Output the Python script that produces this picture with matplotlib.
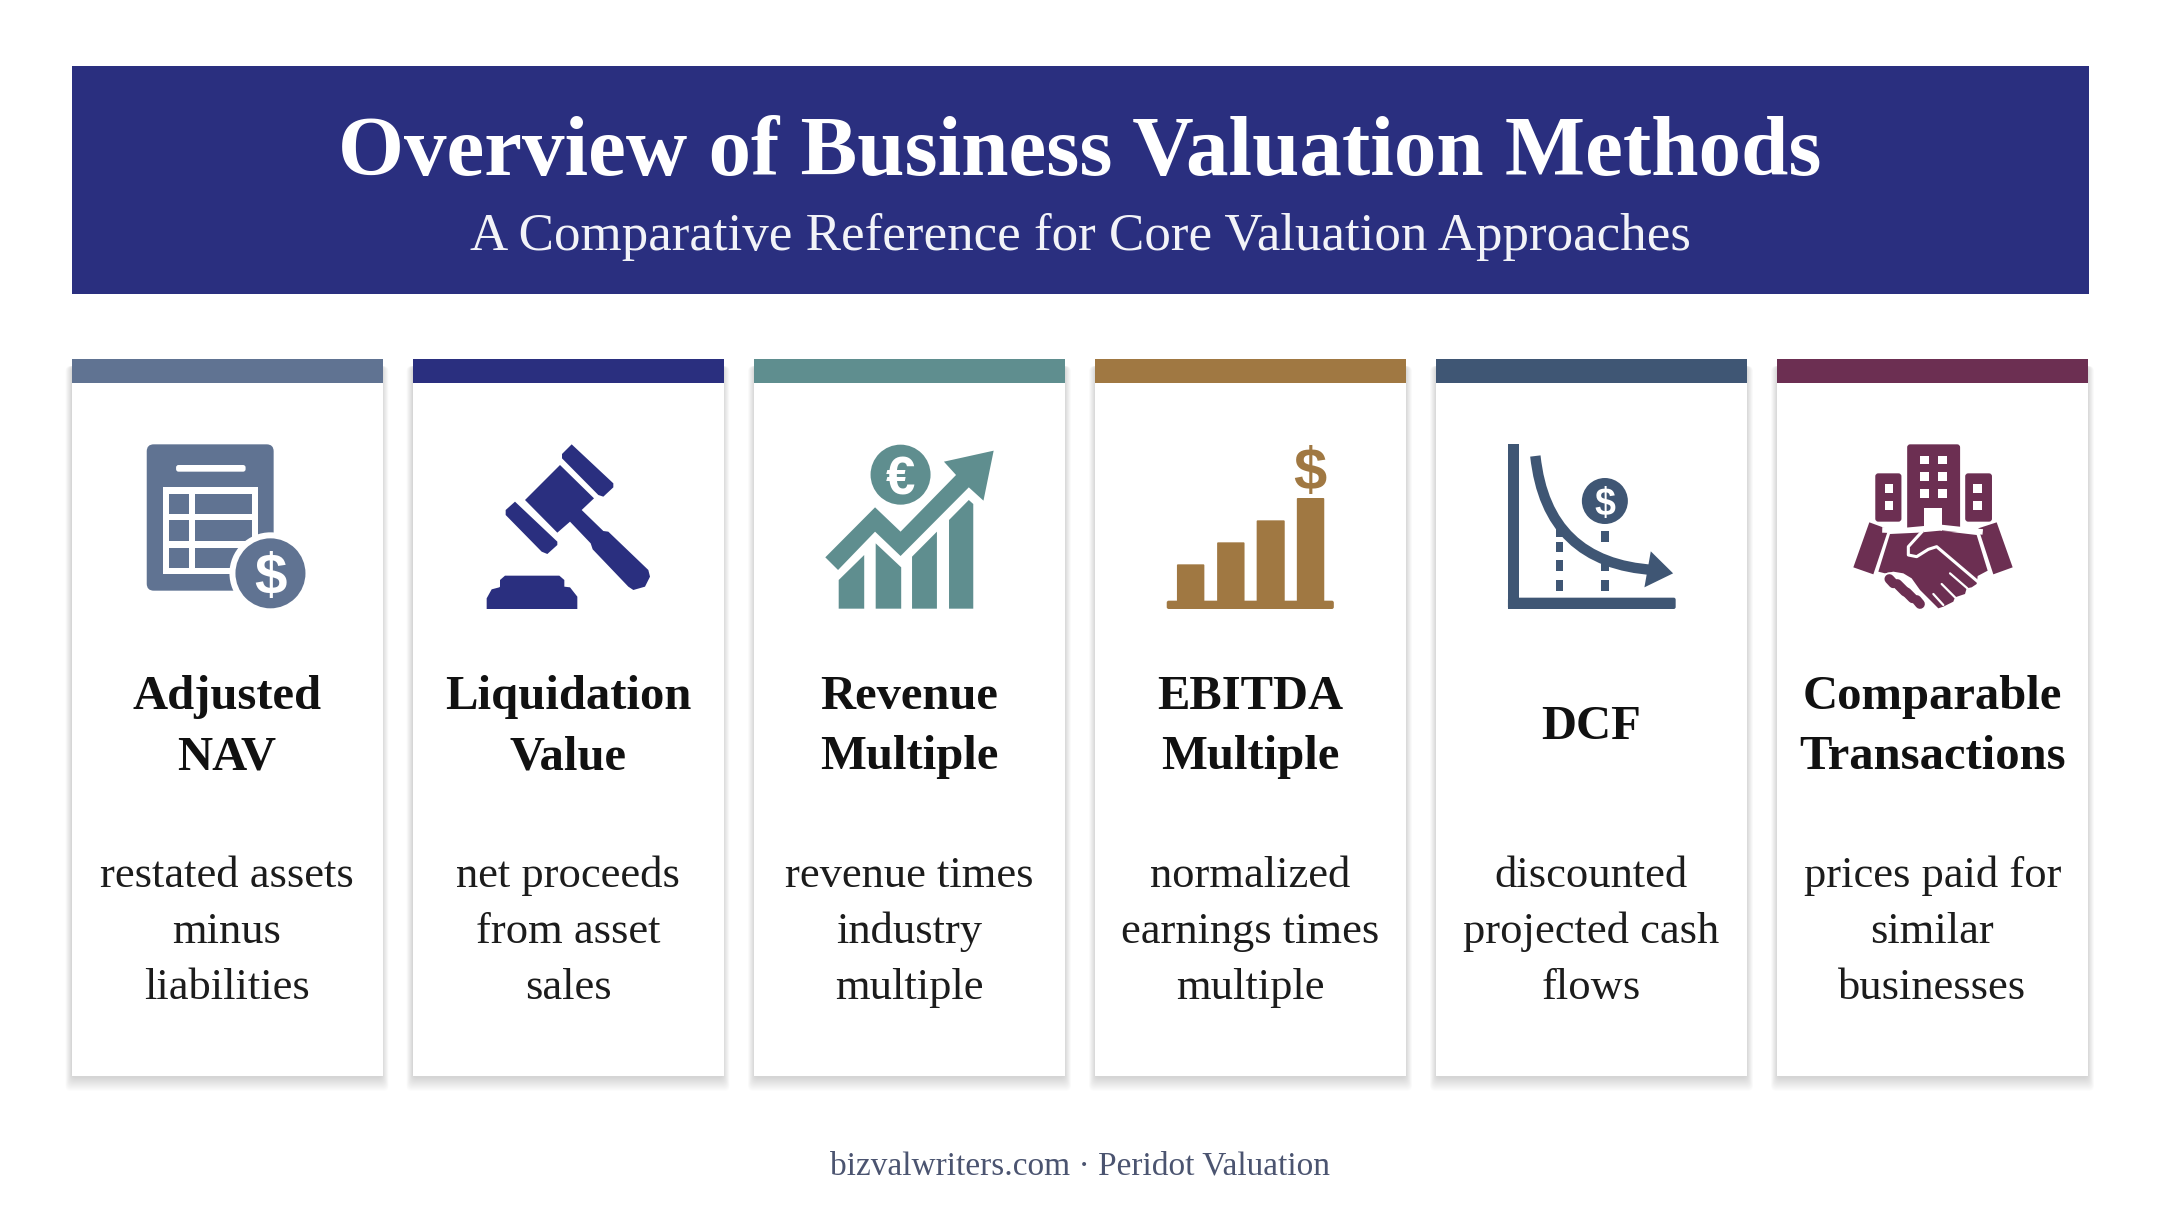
import numpy as np
import matplotlib
matplotlib.use("Agg")
import matplotlib.pyplot as plt
from matplotlib.patches import Polygon, Rectangle, Circle, FancyBboxPatch, PathPatch
from matplotlib.path import Path

TITLE = "Overview of Business Valuation Methods"
SUBTITLE = "A Comparative Reference for Core Valuation Approaches"
FOOTER = "bizvalwriters.com · Peridot Valuation"
METHODS = ["Adjusted\nNAV", "Liquidation\nValue", "Revenue\nMultiple", "EBITDA\nMultiple", "DCF", "Comparable\nTransactions"]
DESCRIPTIONS = ["restated assets\nminus\nliabilities", "net proceeds\nfrom asset\nsales", "revenue times\nindustry\nmultiple",
                "normalized\nearnings times\nmultiple", "discounted\nprojected cash\nflows", "prices paid for\nsimilar\nbusinesses"]
COLORS = ["#607392", "#2a2f7f", "#5f8e8f", "#a07842", "#3f5674", "#6c2f52"]
NAVY = "#2a2f7f"
EBITDA_BAR_TOPS = [643, 577, 511, 444]

SERIF = ["Liberation Serif", "DejaVu Serif"]
GLYPH = "Liberation Sans"
fig = plt.figure(figsize=(21.6, 12.06), dpi=100, facecolor="white")
ax = fig.add_axes([0, 0, 1, 1])
ax.set_xlim(0, 2160); ax.set_ylim(1206, 0); ax.axis("off")

def Z(x0):
    return lambda pts: [(x0 + x / 1.568, 350 + y / 3) for x, y in pts]
Z1, Z2 = Z(60), Z(1080)
def G(pts):
    return [(470 + x / 3, 430 + y / 3) for x, y in pts]
def H(pts):
    return [(1840 + x / 3, 510 + y / 3) for x, y in pts]

def poly(pts, c, z=5, **k):
    ax.add_patch(Polygon(pts, closed=True, fc=c, ec=k.pop("ec", "none"), zorder=z, joinstyle="round", **k))

def rect(x0, y0, x1, y1, c, z=5):
    ax.add_patch(Rectangle((x0, y0), x1 - x0, y1 - y0, fc=c, ec="none", zorder=z))

def rrect(x0, y0, x1, y1, r, c, z=5):
    ax.add_patch(FancyBboxPatch((x0 + r, y0 + r), x1 - x0 - 2 * r, y1 - y0 - 2 * r, boxstyle=f"round,pad={r},rounding_size={r}", fc=c, ec="none", zorder=z))

# header
rect(71.5, 66, 2088.5, 293.5, NAVY, 1)
ax.text(1080, 154, TITLE, color="white", fontsize=61.2, fontweight="bold", family=SERIF, ha="center", va="center", zorder=3)
ax.text(1080, 236.5, SUBTITLE, color="#f2f3f8", fontsize=38.2, family=SERIF, ha="center", va="center", zorder=3)

# cards
LEFTS = [71.5, 412.5, 754, 1095, 1436, 1777]
W = 311
STEPS = 14
for i, x in enumerate(LEFTS):
    for g in range(STEPS):
        t = 1 - g / (STEPS - 1)
        e = 6 * t
        ax.add_patch(FancyBboxPatch((x - e, 366), W + 2 * e, 1076 + 2 + 13 * t - 366,
                                    boxstyle="round,pad=0,rounding_size=5", fc="#000000", alpha=0.012, ec="none", zorder=1))
    rect(x, 360, x + W, 1076, "white", 2)
    rect(x, 359, x + W, 383, COLORS[i], 3)
    cx = x + W / 2
    ys = [697, 757] if "\n" in METHODS[i] else [727]
    for line, y in zip(METHODS[i].split("\n"), ys):
        ax.text(cx, y, line, fontsize=35, fontweight="bold", family=SERIF, color="#111111", ha="center", va="center", zorder=8)
    for line, y in zip(DESCRIPTIONS[i].split("\n"), [876, 932, 988]):
        ax.text(cx, y, line, fontsize=32, family=SERIF, color="#1c1c1c", ha="center", va="center", zorder=8)

ax.text(1080, 1166, FOOTER, fontsize=24, family=SERIF, color="#4b5470", ha="center", va="center")

# icon 1: ledger with coin
c = COLORS[0]
(a, b), (e, f) = Z1([(136, 283)])[0], Z1([(335, 722)])[0]
rrect(a, b, e, f, 7, c)
p = Z1([(182, 345), (291, 365)]); rrect(p[0][0], p[0][1], p[1][0], p[1][1], 2.5, "white", 6)
p = Z1([(162, 411), (311, 672)]); rect(p[0][0], p[0][1], p[1][0], p[1][1], "white", 6)
for (x0, x1) in [(171, 202), (212, 301)]:
    for (y0, y1) in [(431, 491), (511, 572), (593, 653)]:
        p = Z1([(x0, y0), (x1, y1)]); rect(p[0][0], p[0][1], p[1][0], p[1][1], c, 6.5)
cc = Z1([(330, 670)])[0]
ax.add_patch(Circle(cc, 41, fc="white", ec="none", zorder=7))
ax.add_patch(Circle(cc, 35, fc=c, ec="none", zorder=7.5))
ax.text(cc[0], cc[1], "$", color="white", fontsize=42, fontweight="bold", family=GLYPH, ha="center", va="center_baseline", zorder=8)

# icon 2: gavel
c = COLORS[1]
poly(G([(305, 43), (430, 160), (430, 172), (400, 200), (385, 195), (276, 85), (276, 72)]), c)
poly(G([(270, 105), (372, 205), (335, 240), (400, 303), (415, 305), (535, 420), (540, 440), (525, 470), (490, 480), (475, 470),
        (368, 358), (362, 340), (300, 275), (262, 308), (165, 210)]), c)
poly(G([(135, 215), (262, 335), (262, 345), (232, 372), (215, 365), (107, 255), (107, 240)]), c)
poly(G([(90, 470), (90, 450), (105, 437), (268, 437), (283, 450), (283, 470), (300, 472), (322, 500), (322, 537), (50, 537), (50, 505), (65, 478), (88, 472)]), c)

# icon 3: growth
c = COLORS[2]
poly(Z1([(1200, 622), (1278, 472), (1318, 545), (1405, 375), (1386, 335), (1464, 302), (1448, 452), (1425, 412), (1318, 618), (1278, 545), (1220, 660)]), c)
poly(Z1([(1221, 690), (1261, 615), (1261, 776), (1221, 776)]), c)
poly(Z1([(1279, 580), (1319, 652), (1319, 776), (1279, 776)]), c)
poly(Z1([(1336, 620), (1375, 545), (1375, 776), (1336, 776)]), c)
poly(Z1([(1394, 510), (1425, 450), (1432, 462), (1432, 776), (1394, 776)]), c)
cc = Z1([(1318, 374)])[0]
ax.add_patch(Circle(cc, 30, fc=c, ec="none", zorder=7))
ax.text(cc[0], cc[1], "€", color="white", fontsize=38, fontweight="bold", family=GLYPH, ha="center", va="center_baseline", zorder=8)

# icon 4: bars
c = COLORS[3]
p = Z2([(136, 752), (398, 777)]); rrect(p[0][0], p[0][1], p[1][0], p[1][1], 2, c)
for (x0, x1), top in zip([(152, 195), (215, 258), (277, 321), (340, 383)], EBITDA_BAR_TOPS):
    p = Z2([(x0, top), (x1, 760)]); rrect(p[0][0], p[0][1], p[1][0], p[1][1], 1, c)
cc = Z2([(361, 355)])[0]
ax.text(cc[0], cc[1], "$", color=c, fontsize=43, fontweight="bold", family=GLYPH, ha="center", va="center_baseline", zorder=8)

# icon 5: DCF
c = COLORS[4]
p = Z2([(671, 283), (688, 777)]); rect(p[0][0], p[0][1], p[1][0], p[1][1], c)
p = Z2([(671, 743), (934, 777)]); rrect(p[0][0], p[0][1], p[1][0], p[1][1], 2, c)
for X, ys0, ys1 in [(752, [520, 575, 630, 690], [560, 607, 662, 722]), (823, [543, 630, 690], [575, 662, 722])]:
    for y0, y1 in zip(ys0, ys1):
        p = Z2([(X - 6, y0), (X + 6, y1)]); rect(p[0][0], p[0][1], p[1][0], p[1][1], c)
verts = Z2([(714, 318), (732, 640), (900, 660)])
ax.add_patch(PathPatch(Path(verts, [Path.MOVETO, Path.CURVE3, Path.CURVE3]), fc="none", ec=c, lw=7.5, capstyle="butt", zorder=5.6))
poly(Z2([(895, 604), (930, 670), (885, 712)]), c, z=5.7)
cc = Z2([(823, 453)])[0]
ax.add_patch(Circle(cc, 27, fc="white", ec="none", zorder=6.5))
ax.add_patch(Circle(cc, 23, fc=c, ec="none", zorder=7))
ax.text(cc[0], cc[1], "$", color="white", fontsize=27, fontweight="bold", family=GLYPH, ha="center", va="center_baseline", zorder=8)

# icon 6: buildings and handshake
c = COLORS[5]
p = Z2([(1297, 283), (1380, 545)]); rrect(p[0][0], p[0][1], p[1][0], p[1][1], 3, c)
p = Z2([(1247, 370), (1288, 515)]); rrect(p[0][0], p[0][1], p[1][0], p[1][1], 3, c)
p = Z2([(1388, 370), (1430, 515)]); rrect(p[0][0], p[0][1], p[1][0], p[1][1], 3, c)
for X in (1317, 1345):
    for Y in (317, 367, 417):
        p = Z2([(X, Y), (X + 14, Y + 26)]); rect(p[0][0], p[0][1], p[1][0], p[1][1], "white", 6)
for X in (1262, 1401):
    for Y in (403, 453):
        p = Z2([(X, Y), (X + 13, Y + 26)]); rect(p[0][0], p[0][1], p[1][0], p[1][1], "white", 6)
p = Z2([(1323, 473), (1352, 545)]); rect(p[0][0], p[0][1], p[1][0], p[1][1], "white", 6)
poly(H([(88, 37), (145, 58), (100, 193), (40, 172)]), c)
poly(H([(470, 37), (518, 172), (460, 193), (415, 55)]), c)
ax.plot(*zip(*H([(135, 60), (190, 62), (300, 52), (420, 65)])), color="white", lw=4, zorder=5.8)
poly(H([(150, 72), (235, 68), (300, 62), (410, 75), (443, 182), (413, 198), (410, 222), (395, 232), (380, 235), (375, 252), (345, 262),
        (340, 275), (310, 290), (295, 295), (265, 265), (240, 240), (215, 205), (190, 190), (160, 185), (135, 190), (115, 185)]), c, z=6)
ax.plot(*zip(*H([(245, 66), (205, 110), (205, 135), (230, 140), (265, 118), (290, 110), (410, 212)])), color="white", lw=2.2, zorder=6.5, solid_joinstyle="round")
for seg in [[(330, 190), (382, 235)], [(305, 222), (345, 262)], [(280, 252), (310, 285)]]:
    ax.plot(*zip(*H(seg)), color="white", lw=1.6, zorder=6.5, solid_capstyle="round")
for seg in [[(148, 207), (160, 220)], [(172, 222), (195, 245)], [(200, 247), (218, 265)], [(230, 270), (240, 282)]]:
    ax.plot(*zip(*H(seg)), color="white", lw=9.5, zorder=6.6, solid_capstyle="round")
for seg in [[(148, 207), (160, 220)], [(172, 222), (195, 245)], [(200, 247), (218, 265)], [(230, 270), (240, 282)]]:
    ax.plot(*zip(*H(seg)), color=c, lw=7, zorder=6.7, solid_capstyle="round")

fig.savefig("out.png", dpi=100, facecolor="white")
